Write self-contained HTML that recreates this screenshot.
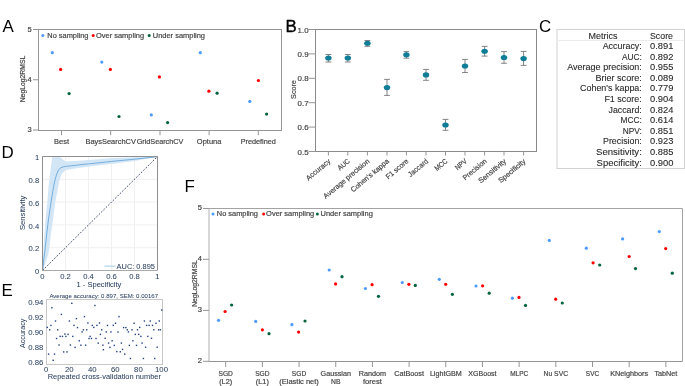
<!DOCTYPE html>
<html><head><meta charset="utf-8"><style>
html,body{margin:0;padding:0;background:#fff;}
svg{display:block;will-change:transform;font-family:"Liberation Sans",sans-serif;}
</style></head><body>
<svg width="685" height="386" viewBox="0 0 685 386" shape-rendering="geometricPrecision">
<rect width="685" height="386" fill="#fff"/>
<text x="2.5" y="31.7" font-size="16.9" fill="#000">A</text>
<text x="285.5" y="31.8" font-size="16.9" fill="#000" stroke="#000" stroke-width="0.35">B</text>
<text x="539.1" y="31.6" font-size="16.9" fill="#000">C</text>
<text x="1.6" y="157.9" font-size="16.9" fill="#000">D</text>
<text x="1.6" y="295.8" font-size="16.9" fill="#000">E</text>
<text x="184.4" y="191.7" font-size="16.9" fill="#000">F</text>
<rect x="38.5" y="29.5" width="243.0" height="101.0" stroke="#959595" stroke-width="1" fill="none"/>
<line x1="33.0" y1="29.5" x2="38.5" y2="29.5" stroke="#959595" stroke-width="1"/>
<text x="31.80" y="31.90" font-size="6.86" fill="#444444" stroke="#444444" stroke-width="0.18" text-anchor="end" textLength="4.20" lengthAdjust="spacingAndGlyphs">5</text>
<line x1="33.0" y1="79.75" x2="38.5" y2="79.75" stroke="#959595" stroke-width="1"/>
<text x="31.80" y="82.15" font-size="6.86" fill="#444444" stroke="#444444" stroke-width="0.18" text-anchor="end" textLength="4.20" lengthAdjust="spacingAndGlyphs">4</text>
<line x1="33.0" y1="130.0" x2="38.5" y2="130.0" stroke="#959595" stroke-width="1"/>
<text x="31.80" y="132.40" font-size="6.86" fill="#444444" stroke="#444444" stroke-width="0.18" text-anchor="end" textLength="4.20" lengthAdjust="spacingAndGlyphs">3</text>
<line x1="61.5" y1="130.5" x2="61.5" y2="135.2" stroke="#959595" stroke-width="1"/>
<text x="61.50" y="144.00" font-size="7.18" fill="#444444" stroke="#444444" stroke-width="0.18" text-anchor="middle" textLength="15.00" lengthAdjust="spacingAndGlyphs">Best</text>
<line x1="110.7" y1="130.5" x2="110.7" y2="135.2" stroke="#959595" stroke-width="1"/>
<text x="110.70" y="144.00" font-size="7.18" fill="#444444" stroke="#444444" stroke-width="0.18" text-anchor="middle" textLength="50.30" lengthAdjust="spacingAndGlyphs">BaysSearchCV</text>
<line x1="160.0" y1="130.5" x2="160.0" y2="135.2" stroke="#959595" stroke-width="1"/>
<text x="160.00" y="144.00" font-size="7.18" fill="#444444" stroke="#444444" stroke-width="0.18" text-anchor="middle" textLength="46.70" lengthAdjust="spacingAndGlyphs">GridSearchCV</text>
<line x1="209.1" y1="130.5" x2="209.1" y2="135.2" stroke="#959595" stroke-width="1"/>
<text x="209.10" y="144.00" font-size="7.18" fill="#444444" stroke="#444444" stroke-width="0.18" text-anchor="middle" textLength="24.50" lengthAdjust="spacingAndGlyphs">Optuna</text>
<line x1="258.3" y1="130.5" x2="258.3" y2="135.2" stroke="#959595" stroke-width="1"/>
<text x="258.30" y="144.00" font-size="7.18" fill="#444444" stroke="#444444" stroke-width="0.18" text-anchor="middle" textLength="35.20" lengthAdjust="spacingAndGlyphs">Predefined</text>
<text x="24.80" y="79.00" font-size="6.76" fill="#444444" stroke="#444444" stroke-width="0.18" text-anchor="middle" textLength="46.60" lengthAdjust="spacingAndGlyphs" transform="rotate(-90 24.80 79.00)">NegLog2RMSL</text>
<circle cx="42.80" cy="35.60" r="1.5" fill="#4d9bff"/>
<text x="47.30" y="37.90" font-size="6.86" fill="#444444" stroke="#444444" stroke-width="0.18" text-anchor="start" textLength="41.21" lengthAdjust="spacingAndGlyphs">No sampling</text>
<circle cx="93.20" cy="35.60" r="1.5" fill="#ff0000"/>
<text x="96.00" y="37.90" font-size="6.86" fill="#444444" stroke="#444444" stroke-width="0.18" text-anchor="start" textLength="48.11" lengthAdjust="spacingAndGlyphs">Over sampling</text>
<circle cx="149.20" cy="35.60" r="1.5" fill="#00643c"/>
<text x="152.80" y="37.90" font-size="6.86" fill="#444444" stroke="#444444" stroke-width="0.18" text-anchor="start" textLength="52.22" lengthAdjust="spacingAndGlyphs">Under sampling</text>
<circle cx="52.30" cy="52.70" r="1.6" fill="#4d9bff"/>
<circle cx="60.60" cy="69.40" r="1.6" fill="#ff0000"/>
<circle cx="69.10" cy="93.60" r="1.6" fill="#00643c"/>
<circle cx="101.80" cy="62.10" r="1.6" fill="#4d9bff"/>
<circle cx="110.40" cy="69.40" r="1.6" fill="#ff0000"/>
<circle cx="119.00" cy="116.50" r="1.6" fill="#00643c"/>
<circle cx="151.30" cy="114.90" r="1.6" fill="#4d9bff"/>
<circle cx="159.40" cy="76.90" r="1.6" fill="#ff0000"/>
<circle cx="167.60" cy="122.60" r="1.6" fill="#00643c"/>
<circle cx="200.30" cy="52.70" r="1.6" fill="#4d9bff"/>
<circle cx="208.90" cy="91.20" r="1.6" fill="#ff0000"/>
<circle cx="217.10" cy="93.20" r="1.6" fill="#00643c"/>
<circle cx="249.80" cy="101.40" r="1.6" fill="#4d9bff"/>
<circle cx="258.40" cy="80.50" r="1.6" fill="#ff0000"/>
<circle cx="266.60" cy="114.10" r="1.6" fill="#00643c"/>
<rect x="315.5" y="29.5" width="221.0" height="122.0" stroke="#8a8a8a" stroke-width="1" fill="none"/>
<line x1="308.5" y1="29.5" x2="315.5" y2="29.5" stroke="#959595" stroke-width="1"/>
<text x="308.60" y="32.50" font-size="7.73" fill="#444444" stroke="#444444" stroke-width="0.18" text-anchor="end" textLength="10.97" lengthAdjust="spacingAndGlyphs">1.0</text>
<line x1="308.5" y1="53.9" x2="315.5" y2="53.9" stroke="#959595" stroke-width="1"/>
<text x="308.60" y="56.90" font-size="7.73" fill="#444444" stroke="#444444" stroke-width="0.18" text-anchor="end" textLength="10.97" lengthAdjust="spacingAndGlyphs">0.9</text>
<line x1="308.5" y1="78.3" x2="315.5" y2="78.3" stroke="#959595" stroke-width="1"/>
<text x="308.60" y="81.30" font-size="7.73" fill="#444444" stroke="#444444" stroke-width="0.18" text-anchor="end" textLength="10.97" lengthAdjust="spacingAndGlyphs">0.8</text>
<line x1="308.5" y1="102.7" x2="315.5" y2="102.7" stroke="#959595" stroke-width="1"/>
<text x="308.60" y="105.70" font-size="7.73" fill="#444444" stroke="#444444" stroke-width="0.18" text-anchor="end" textLength="10.97" lengthAdjust="spacingAndGlyphs">0.7</text>
<line x1="308.5" y1="127.1" x2="315.5" y2="127.1" stroke="#959595" stroke-width="1"/>
<text x="308.60" y="130.10" font-size="7.73" fill="#444444" stroke="#444444" stroke-width="0.18" text-anchor="end" textLength="10.97" lengthAdjust="spacingAndGlyphs">0.6</text>
<line x1="308.5" y1="151.5" x2="315.5" y2="151.5" stroke="#959595" stroke-width="1"/>
<text x="308.60" y="154.50" font-size="7.73" fill="#444444" stroke="#444444" stroke-width="0.18" text-anchor="end" textLength="10.97" lengthAdjust="spacingAndGlyphs">0.5</text>
<text x="296.00" y="89.50" font-size="6.97" fill="#444444" stroke="#444444" stroke-width="0.18" text-anchor="middle" textLength="18.77" lengthAdjust="spacingAndGlyphs" transform="rotate(-90 296.00 89.50)">Score</text>
<line x1="328.4" y1="151.5" x2="328.4" y2="155.5" stroke="#959595" stroke-width="1"/>
<text x="331.00" y="162.00" font-size="7.22" fill="#444444" stroke="#444444" stroke-width="0.18" text-anchor="end" textLength="29.45" lengthAdjust="spacingAndGlyphs" transform="rotate(-40 331.00 162.00)">Accuracy</text>
<line x1="347.8" y1="151.5" x2="347.8" y2="155.5" stroke="#959595" stroke-width="1"/>
<text x="350.40" y="162.00" font-size="7.22" fill="#444444" stroke="#444444" stroke-width="0.18" text-anchor="end" textLength="13.64" lengthAdjust="spacingAndGlyphs" transform="rotate(-40 350.40 162.00)">AUC</text>
<line x1="367.4" y1="151.5" x2="367.4" y2="155.5" stroke="#959595" stroke-width="1"/>
<text x="370.00" y="162.00" font-size="7.22" fill="#444444" stroke="#444444" stroke-width="0.18" text-anchor="end" textLength="57.63" lengthAdjust="spacingAndGlyphs" transform="rotate(-40 370.00 162.00)">Average precision</text>
<line x1="387.0" y1="151.5" x2="387.0" y2="155.5" stroke="#959595" stroke-width="1"/>
<text x="389.60" y="162.00" font-size="7.22" fill="#444444" stroke="#444444" stroke-width="0.18" text-anchor="end" textLength="47.49" lengthAdjust="spacingAndGlyphs" transform="rotate(-40 389.60 162.00)">Cohen's kappa</text>
<line x1="406.4" y1="151.5" x2="406.4" y2="155.5" stroke="#959595" stroke-width="1"/>
<text x="409.00" y="162.00" font-size="7.22" fill="#444444" stroke="#444444" stroke-width="0.18" text-anchor="end" textLength="27.20" lengthAdjust="spacingAndGlyphs" transform="rotate(-40 409.00 162.00)">F1 score</text>
<line x1="426.0" y1="151.5" x2="426.0" y2="155.5" stroke="#959595" stroke-width="1"/>
<text x="428.60" y="162.00" font-size="7.22" fill="#444444" stroke="#444444" stroke-width="0.18" text-anchor="end" textLength="23.53" lengthAdjust="spacingAndGlyphs" transform="rotate(-40 428.60 162.00)">Jaccard</text>
<line x1="445.5" y1="151.5" x2="445.5" y2="155.5" stroke="#959595" stroke-width="1"/>
<text x="448.10" y="162.00" font-size="7.22" fill="#444444" stroke="#444444" stroke-width="0.18" text-anchor="end" textLength="14.57" lengthAdjust="spacingAndGlyphs" transform="rotate(-40 448.10 162.00)">MCC</text>
<line x1="465.0" y1="151.5" x2="465.0" y2="155.5" stroke="#959595" stroke-width="1"/>
<text x="467.60" y="162.00" font-size="7.22" fill="#444444" stroke="#444444" stroke-width="0.18" text-anchor="end" textLength="13.13" lengthAdjust="spacingAndGlyphs" transform="rotate(-40 467.60 162.00)">NPV</text>
<line x1="484.6" y1="151.5" x2="484.6" y2="155.5" stroke="#959595" stroke-width="1"/>
<text x="487.20" y="162.00" font-size="7.22" fill="#444444" stroke="#444444" stroke-width="0.18" text-anchor="end" textLength="28.78" lengthAdjust="spacingAndGlyphs" transform="rotate(-40 487.20 162.00)">Precision</text>
<line x1="504.0" y1="151.5" x2="504.0" y2="155.5" stroke="#959595" stroke-width="1"/>
<text x="506.60" y="162.00" font-size="7.22" fill="#444444" stroke="#444444" stroke-width="0.18" text-anchor="end" textLength="33.58" lengthAdjust="spacingAndGlyphs" transform="rotate(-40 506.60 162.00)">Sensitivity</text>
<line x1="523.6" y1="151.5" x2="523.6" y2="155.5" stroke="#959595" stroke-width="1"/>
<text x="526.20" y="162.00" font-size="7.22" fill="#444444" stroke="#444444" stroke-width="0.18" text-anchor="end" textLength="33.24" lengthAdjust="spacingAndGlyphs" transform="rotate(-40 526.20 162.00)">Specificity</text>
<line x1="328.4" y1="54.5" x2="328.4" y2="62.0" stroke="#777" stroke-width="0.9"/>
<line x1="325.5" y1="54.5" x2="331.29999999999995" y2="54.5" stroke="#777" stroke-width="0.9"/>
<line x1="325.5" y1="62.0" x2="331.29999999999995" y2="62.0" stroke="#777" stroke-width="0.9"/>
<ellipse cx="328.4" cy="58.0" rx="3.25" ry="2.55" fill="#107d98"/>
<line x1="347.8" y1="54.5" x2="347.8" y2="62.0" stroke="#777" stroke-width="0.9"/>
<line x1="344.90000000000003" y1="54.5" x2="350.7" y2="54.5" stroke="#777" stroke-width="0.9"/>
<line x1="344.90000000000003" y1="62.0" x2="350.7" y2="62.0" stroke="#777" stroke-width="0.9"/>
<ellipse cx="347.8" cy="58.0" rx="3.25" ry="2.55" fill="#107d98"/>
<line x1="367.4" y1="40.5" x2="367.4" y2="46.3" stroke="#777" stroke-width="0.9"/>
<line x1="364.5" y1="40.5" x2="370.29999999999995" y2="40.5" stroke="#777" stroke-width="0.9"/>
<line x1="364.5" y1="46.3" x2="370.29999999999995" y2="46.3" stroke="#777" stroke-width="0.9"/>
<ellipse cx="367.4" cy="43.2" rx="3.25" ry="2.55" fill="#107d98"/>
<line x1="387.0" y1="79.4" x2="387.0" y2="95.4" stroke="#777" stroke-width="0.9"/>
<line x1="384.1" y1="79.4" x2="389.9" y2="79.4" stroke="#777" stroke-width="0.9"/>
<line x1="384.1" y1="95.4" x2="389.9" y2="95.4" stroke="#777" stroke-width="0.9"/>
<ellipse cx="387.0" cy="87.6" rx="3.25" ry="2.55" fill="#107d98"/>
<line x1="406.4" y1="51.6" x2="406.4" y2="58.2" stroke="#777" stroke-width="0.9"/>
<line x1="403.5" y1="51.6" x2="409.29999999999995" y2="51.6" stroke="#777" stroke-width="0.9"/>
<line x1="403.5" y1="58.2" x2="409.29999999999995" y2="58.2" stroke="#777" stroke-width="0.9"/>
<ellipse cx="406.4" cy="54.8" rx="3.25" ry="2.55" fill="#107d98"/>
<line x1="426.0" y1="69.4" x2="426.0" y2="80.3" stroke="#777" stroke-width="0.9"/>
<line x1="423.1" y1="69.4" x2="428.9" y2="69.4" stroke="#777" stroke-width="0.9"/>
<line x1="423.1" y1="80.3" x2="428.9" y2="80.3" stroke="#777" stroke-width="0.9"/>
<ellipse cx="426.0" cy="74.9" rx="3.25" ry="2.55" fill="#107d98"/>
<line x1="445.5" y1="119.4" x2="445.5" y2="130.3" stroke="#777" stroke-width="0.9"/>
<line x1="442.6" y1="119.4" x2="448.4" y2="119.4" stroke="#777" stroke-width="0.9"/>
<line x1="442.6" y1="130.3" x2="448.4" y2="130.3" stroke="#777" stroke-width="0.9"/>
<ellipse cx="445.5" cy="125.0" rx="3.25" ry="2.55" fill="#107d98"/>
<line x1="465.0" y1="59.4" x2="465.0" y2="72.5" stroke="#777" stroke-width="0.9"/>
<line x1="462.1" y1="59.4" x2="467.9" y2="59.4" stroke="#777" stroke-width="0.9"/>
<line x1="462.1" y1="72.5" x2="467.9" y2="72.5" stroke="#777" stroke-width="0.9"/>
<ellipse cx="465.0" cy="66.0" rx="3.25" ry="2.55" fill="#107d98"/>
<line x1="484.6" y1="46.4" x2="484.6" y2="56.1" stroke="#777" stroke-width="0.9"/>
<line x1="481.70000000000005" y1="46.4" x2="487.5" y2="46.4" stroke="#777" stroke-width="0.9"/>
<line x1="481.70000000000005" y1="56.1" x2="487.5" y2="56.1" stroke="#777" stroke-width="0.9"/>
<ellipse cx="484.6" cy="51.3" rx="3.25" ry="2.55" fill="#107d98"/>
<line x1="504.0" y1="51.6" x2="504.0" y2="63.3" stroke="#777" stroke-width="0.9"/>
<line x1="501.1" y1="51.6" x2="506.9" y2="51.6" stroke="#777" stroke-width="0.9"/>
<line x1="501.1" y1="63.3" x2="506.9" y2="63.3" stroke="#777" stroke-width="0.9"/>
<ellipse cx="504.0" cy="57.5" rx="3.25" ry="2.55" fill="#107d98"/>
<line x1="523.6" y1="51.4" x2="523.6" y2="65.4" stroke="#777" stroke-width="0.9"/>
<line x1="520.7" y1="51.4" x2="526.5" y2="51.4" stroke="#777" stroke-width="0.9"/>
<line x1="520.7" y1="65.4" x2="526.5" y2="65.4" stroke="#777" stroke-width="0.9"/>
<ellipse cx="523.6" cy="58.6" rx="3.25" ry="2.55" fill="#107d98"/>
<rect x="557.0" y="29.5" width="127.5" height="139.0" stroke="#d2d2d2" stroke-width="1" fill="none"/>
<line x1="557.0" y1="40.5" x2="684.5" y2="40.5" stroke="#ececec" stroke-width="1"/>
<text x="603.00" y="38.60" font-size="8.22" fill="#2b2b2b" stroke="#2b2b2b" stroke-width="0.1" text-anchor="middle" textLength="29.00" lengthAdjust="spacingAndGlyphs">Metrics</text>
<text x="650.00" y="38.60" font-size="8.22" fill="#2b2b2b" stroke="#2b2b2b" stroke-width="0.1" text-anchor="start" textLength="23.00" lengthAdjust="spacingAndGlyphs">Score</text>
<text x="641.80" y="49.00" font-size="8.22" fill="#2b2b2b" stroke="#2b2b2b" stroke-width="0.1" text-anchor="end" textLength="39.10" lengthAdjust="spacingAndGlyphs">Accuracy:</text>
<text x="650.00" y="49.00" font-size="8.22" fill="#2b2b2b" stroke="#2b2b2b" stroke-width="0.1" text-anchor="start" textLength="23.40" lengthAdjust="spacingAndGlyphs">0.891</text>
<text x="641.80" y="59.60" font-size="8.22" fill="#2b2b2b" stroke="#2b2b2b" stroke-width="0.1" text-anchor="end" textLength="19.90" lengthAdjust="spacingAndGlyphs">AUC:</text>
<text x="650.00" y="59.60" font-size="8.22" fill="#2b2b2b" stroke="#2b2b2b" stroke-width="0.1" text-anchor="start" textLength="23.40" lengthAdjust="spacingAndGlyphs">0.892</text>
<text x="641.80" y="70.20" font-size="8.22" fill="#2b2b2b" stroke="#2b2b2b" stroke-width="0.1" text-anchor="end" textLength="74.60" lengthAdjust="spacingAndGlyphs">Average precision:</text>
<text x="650.00" y="70.20" font-size="8.22" fill="#2b2b2b" stroke="#2b2b2b" stroke-width="0.1" text-anchor="start" textLength="23.40" lengthAdjust="spacingAndGlyphs">0.955</text>
<text x="641.80" y="80.80" font-size="8.22" fill="#2b2b2b" stroke="#2b2b2b" stroke-width="0.1" text-anchor="end" textLength="46.40" lengthAdjust="spacingAndGlyphs">Brier score:</text>
<text x="650.00" y="80.80" font-size="8.22" fill="#2b2b2b" stroke="#2b2b2b" stroke-width="0.1" text-anchor="start" textLength="23.40" lengthAdjust="spacingAndGlyphs">0.089</text>
<text x="641.80" y="91.40" font-size="8.22" fill="#2b2b2b" stroke="#2b2b2b" stroke-width="0.1" text-anchor="end" textLength="61.80" lengthAdjust="spacingAndGlyphs">Cohen's kappa:</text>
<text x="650.00" y="91.40" font-size="8.22" fill="#2b2b2b" stroke="#2b2b2b" stroke-width="0.1" text-anchor="start" textLength="23.40" lengthAdjust="spacingAndGlyphs">0.779</text>
<text x="641.80" y="102.00" font-size="8.22" fill="#2b2b2b" stroke="#2b2b2b" stroke-width="0.1" text-anchor="end" textLength="37.40" lengthAdjust="spacingAndGlyphs">F1 score:</text>
<text x="650.00" y="102.00" font-size="8.22" fill="#2b2b2b" stroke="#2b2b2b" stroke-width="0.1" text-anchor="start" textLength="23.40" lengthAdjust="spacingAndGlyphs">0.904</text>
<text x="641.80" y="112.60" font-size="8.22" fill="#2b2b2b" stroke="#2b2b2b" stroke-width="0.1" text-anchor="end" textLength="33.30" lengthAdjust="spacingAndGlyphs">Jaccard:</text>
<text x="650.00" y="112.60" font-size="8.22" fill="#2b2b2b" stroke="#2b2b2b" stroke-width="0.1" text-anchor="start" textLength="23.40" lengthAdjust="spacingAndGlyphs">0.824</text>
<text x="641.80" y="123.20" font-size="8.22" fill="#2b2b2b" stroke="#2b2b2b" stroke-width="0.1" text-anchor="end" textLength="21.30" lengthAdjust="spacingAndGlyphs">MCC:</text>
<text x="650.00" y="123.20" font-size="8.22" fill="#2b2b2b" stroke="#2b2b2b" stroke-width="0.1" text-anchor="start" textLength="23.40" lengthAdjust="spacingAndGlyphs">0.614</text>
<text x="641.80" y="133.80" font-size="8.22" fill="#2b2b2b" stroke="#2b2b2b" stroke-width="0.1" text-anchor="end" textLength="19.10" lengthAdjust="spacingAndGlyphs">NPV:</text>
<text x="650.00" y="133.80" font-size="8.22" fill="#2b2b2b" stroke="#2b2b2b" stroke-width="0.1" text-anchor="start" textLength="23.40" lengthAdjust="spacingAndGlyphs">0.851</text>
<text x="641.80" y="144.40" font-size="8.22" fill="#2b2b2b" stroke="#2b2b2b" stroke-width="0.1" text-anchor="end" textLength="38.80" lengthAdjust="spacingAndGlyphs">Precision:</text>
<text x="650.00" y="144.40" font-size="8.22" fill="#2b2b2b" stroke="#2b2b2b" stroke-width="0.1" text-anchor="start" textLength="23.40" lengthAdjust="spacingAndGlyphs">0.923</text>
<text x="641.80" y="155.00" font-size="8.22" fill="#2b2b2b" stroke="#2b2b2b" stroke-width="0.1" text-anchor="end" textLength="45.80" lengthAdjust="spacingAndGlyphs">Sensitivity:</text>
<text x="650.00" y="155.00" font-size="8.22" fill="#2b2b2b" stroke="#2b2b2b" stroke-width="0.1" text-anchor="start" textLength="23.40" lengthAdjust="spacingAndGlyphs">0.885</text>
<text x="641.80" y="165.60" font-size="8.22" fill="#2b2b2b" stroke="#2b2b2b" stroke-width="0.1" text-anchor="end" textLength="45.20" lengthAdjust="spacingAndGlyphs">Specificity:</text>
<text x="650.00" y="165.60" font-size="8.22" fill="#2b2b2b" stroke="#2b2b2b" stroke-width="0.1" text-anchor="start" textLength="23.40" lengthAdjust="spacingAndGlyphs">0.900</text>
<line x1="65.50" y1="156.5" x2="65.50" y2="270.5" stroke="#f0f0f0" stroke-width="1"/>
<line x1="42.5" y1="247.70" x2="157.5" y2="247.70" stroke="#f0f0f0" stroke-width="1"/>
<line x1="88.50" y1="156.5" x2="88.50" y2="270.5" stroke="#f0f0f0" stroke-width="1"/>
<line x1="42.5" y1="224.90" x2="157.5" y2="224.90" stroke="#f0f0f0" stroke-width="1"/>
<line x1="111.50" y1="156.5" x2="111.50" y2="270.5" stroke="#f0f0f0" stroke-width="1"/>
<line x1="42.5" y1="202.10" x2="157.5" y2="202.10" stroke="#f0f0f0" stroke-width="1"/>
<line x1="134.50" y1="156.5" x2="134.50" y2="270.5" stroke="#f0f0f0" stroke-width="1"/>
<line x1="42.5" y1="179.30" x2="157.5" y2="179.30" stroke="#f0f0f0" stroke-width="1"/>
<polygon points="42.8,270.3 43.3,254 43.5,246 45.5,220 47.3,202.3 48.6,186 50.5,170 52.2,156.7 59.9,156.7 62.5,159.3 65.5,161.5 75.2,161.0 82,160.6 98,159.3 111.6,158.0 134.7,157.3 157.0,156.8 157.0,156.8 134.7,160.9 111.6,163.9 98,165.6 82,167.5 75.2,168.5 65.6,170.2 62,173.5 59.5,180 58.4,186 55.2,202.3 53.0,220 50.8,235 49.6,246 48.4,254 45.5,263 42.8,270.3" fill="#d3e6f6"/>
<polyline points="42.8,270.3 43.7,260 45.0,250 46.6,235 48.4,220 51.0,202.3 53.7,186 55.1,179.6 56.4,175 58.0,171 59.9,168.4 62.0,167.2 65.5,166.4 75.2,165.4 82,164.5 88.5,163.9 98,162.9 111.6,161.4 134.7,159.2 157.0,156.8" fill="none" stroke="#64a4d8" stroke-width="0.85"/>
<line x1="42.5" y1="270.5" x2="157.5" y2="156.5" stroke="#44546f" stroke-width="1.0" stroke-dasharray="1.8,1.5"/>
<line x1="42.5" y1="156.5" x2="157.5" y2="156.5" stroke="#8f8f8f" stroke-width="1"/>
<line x1="42.5" y1="156.5" x2="42.5" y2="270.5" stroke="#8f8f8f" stroke-width="1"/>
<line x1="157.5" y1="156.5" x2="157.5" y2="270.5" stroke="#8f8f8f" stroke-width="1"/>
<line x1="42.5" y1="270.5" x2="157.5" y2="270.5" stroke="#a8a8a8" stroke-width="1"/>
<text x="42.50" y="279.20" font-size="6.97" fill="#2a3f5f" stroke="#2a3f5f" stroke-width="0.04" text-anchor="middle" textLength="4.26" lengthAdjust="spacingAndGlyphs">0</text>
<text x="39.20" y="274.25" font-size="6.97" fill="#2a3f5f" stroke="#2a3f5f" stroke-width="0.04" text-anchor="end" textLength="4.26" lengthAdjust="spacingAndGlyphs">0</text>
<text x="65.50" y="279.20" font-size="6.97" fill="#2a3f5f" stroke="#2a3f5f" stroke-width="0.04" text-anchor="middle" textLength="10.66" lengthAdjust="spacingAndGlyphs">0.2</text>
<text x="39.20" y="251.45" font-size="6.97" fill="#2a3f5f" stroke="#2a3f5f" stroke-width="0.04" text-anchor="end" textLength="10.66" lengthAdjust="spacingAndGlyphs">0.2</text>
<text x="88.50" y="279.20" font-size="6.97" fill="#2a3f5f" stroke="#2a3f5f" stroke-width="0.04" text-anchor="middle" textLength="10.66" lengthAdjust="spacingAndGlyphs">0.4</text>
<text x="39.20" y="228.65" font-size="6.97" fill="#2a3f5f" stroke="#2a3f5f" stroke-width="0.04" text-anchor="end" textLength="10.66" lengthAdjust="spacingAndGlyphs">0.4</text>
<text x="111.50" y="279.20" font-size="6.97" fill="#2a3f5f" stroke="#2a3f5f" stroke-width="0.04" text-anchor="middle" textLength="10.66" lengthAdjust="spacingAndGlyphs">0.6</text>
<text x="39.20" y="205.85" font-size="6.97" fill="#2a3f5f" stroke="#2a3f5f" stroke-width="0.04" text-anchor="end" textLength="10.66" lengthAdjust="spacingAndGlyphs">0.6</text>
<text x="134.50" y="279.20" font-size="6.97" fill="#2a3f5f" stroke="#2a3f5f" stroke-width="0.04" text-anchor="middle" textLength="10.66" lengthAdjust="spacingAndGlyphs">0.8</text>
<text x="39.20" y="183.05" font-size="6.97" fill="#2a3f5f" stroke="#2a3f5f" stroke-width="0.04" text-anchor="end" textLength="10.66" lengthAdjust="spacingAndGlyphs">0.8</text>
<text x="157.50" y="279.20" font-size="6.97" fill="#2a3f5f" stroke="#2a3f5f" stroke-width="0.04" text-anchor="middle" textLength="4.26" lengthAdjust="spacingAndGlyphs">1</text>
<text x="39.20" y="160.25" font-size="6.97" fill="#2a3f5f" stroke="#2a3f5f" stroke-width="0.04" text-anchor="end" textLength="4.26" lengthAdjust="spacingAndGlyphs">1</text>
<text x="99.00" y="286.80" font-size="6.86" fill="#2a3f5f" stroke="#2a3f5f" stroke-width="0.04" text-anchor="middle" textLength="44.79" lengthAdjust="spacingAndGlyphs">1 - Specificity</text>
<text x="25.00" y="212.80" font-size="6.86" fill="#2a3f5f" stroke="#2a3f5f" stroke-width="0.04" text-anchor="middle" textLength="34.36" lengthAdjust="spacingAndGlyphs" transform="rotate(-90 25.00 212.80)">Sensitivity</text>
<line x1="104.4" y1="266.1" x2="115.4" y2="266.1" stroke="#9ecae9" stroke-width="1"/>
<text x="116.60" y="269.40" font-size="7.07" fill="#2a3f5f" stroke="#2a3f5f" stroke-width="0.04" text-anchor="start" textLength="38.30" lengthAdjust="spacingAndGlyphs">AUC: 0.895</text>
<rect x="46.5" y="299.5" width="116.0" height="65.0" stroke="#c8c8c8" stroke-width="1" fill="none"/>
<text x="103.70" y="298.00" font-size="5.67" fill="#2a3f5f" stroke="#2a3f5f" stroke-width="0.04" text-anchor="middle" textLength="108.65" lengthAdjust="spacingAndGlyphs">Average accuracy: 0.897, SEM: 0.00167</text>
<text x="43.40" y="304.75" font-size="7.07" fill="#2a3f5f" stroke="#2a3f5f" stroke-width="0.04" text-anchor="end" textLength="15.14" lengthAdjust="spacingAndGlyphs">0.94</text>
<text x="43.40" y="319.70" font-size="7.07" fill="#2a3f5f" stroke="#2a3f5f" stroke-width="0.04" text-anchor="end" textLength="15.14" lengthAdjust="spacingAndGlyphs">0.92</text>
<text x="43.40" y="334.65" font-size="7.07" fill="#2a3f5f" stroke="#2a3f5f" stroke-width="0.04" text-anchor="end" textLength="15.14" lengthAdjust="spacingAndGlyphs">0.90</text>
<text x="43.40" y="349.60" font-size="7.07" fill="#2a3f5f" stroke="#2a3f5f" stroke-width="0.04" text-anchor="end" textLength="15.14" lengthAdjust="spacingAndGlyphs">0.88</text>
<text x="43.40" y="364.55" font-size="7.07" fill="#2a3f5f" stroke="#2a3f5f" stroke-width="0.04" text-anchor="end" textLength="15.14" lengthAdjust="spacingAndGlyphs">0.86</text>
<text x="46.20" y="371.80" font-size="7.07" fill="#2a3f5f" stroke="#2a3f5f" stroke-width="0.04" text-anchor="middle" textLength="4.33" lengthAdjust="spacingAndGlyphs">0</text>
<text x="69.26" y="371.80" font-size="7.07" fill="#2a3f5f" stroke="#2a3f5f" stroke-width="0.04" text-anchor="middle" textLength="8.65" lengthAdjust="spacingAndGlyphs">20</text>
<text x="92.32" y="371.80" font-size="7.07" fill="#2a3f5f" stroke="#2a3f5f" stroke-width="0.04" text-anchor="middle" textLength="8.65" lengthAdjust="spacingAndGlyphs">40</text>
<text x="115.38" y="371.80" font-size="7.07" fill="#2a3f5f" stroke="#2a3f5f" stroke-width="0.04" text-anchor="middle" textLength="8.65" lengthAdjust="spacingAndGlyphs">60</text>
<text x="138.44" y="371.80" font-size="7.07" fill="#2a3f5f" stroke="#2a3f5f" stroke-width="0.04" text-anchor="middle" textLength="8.65" lengthAdjust="spacingAndGlyphs">80</text>
<text x="161.50" y="371.80" font-size="7.07" fill="#2a3f5f" stroke="#2a3f5f" stroke-width="0.04" text-anchor="middle" textLength="12.98" lengthAdjust="spacingAndGlyphs">100</text>
<text x="104.30" y="379.30" font-size="6.86" fill="#2a3f5f" stroke="#2a3f5f" stroke-width="0.04" text-anchor="middle" textLength="113.25" lengthAdjust="spacingAndGlyphs">Repeated cross-validation number</text>
<text x="25.00" y="333.30" font-size="6.66" fill="#2a3f5f" stroke="#2a3f5f" stroke-width="0.04" text-anchor="middle" textLength="29.22" lengthAdjust="spacingAndGlyphs" transform="rotate(-90 25.00 333.30)">Accuracy</text>
<rect x="46.60" y="326.70" width="1.4" height="1.4" fill="#23427f"/>
<rect x="51.20" y="307.00" width="1.4" height="1.4" fill="#23427f"/>
<rect x="50.20" y="324.70" width="1.4" height="1.4" fill="#23427f"/>
<rect x="49.00" y="329.10" width="1.4" height="1.4" fill="#23427f"/>
<rect x="54.80" y="320.30" width="1.4" height="1.4" fill="#23427f"/>
<rect x="57.00" y="329.10" width="1.4" height="1.4" fill="#23427f"/>
<rect x="60.70" y="313.70" width="1.4" height="1.4" fill="#23427f"/>
<rect x="68.70" y="320.30" width="1.4" height="1.4" fill="#23427f"/>
<rect x="71.10" y="302.60" width="1.4" height="1.4" fill="#23427f"/>
<rect x="73.30" y="324.70" width="1.4" height="1.4" fill="#23427f"/>
<rect x="75.70" y="317.90" width="1.4" height="1.4" fill="#23427f"/>
<rect x="76.80" y="326.90" width="1.4" height="1.4" fill="#23427f"/>
<rect x="82.70" y="329.10" width="1.4" height="1.4" fill="#23427f"/>
<rect x="83.70" y="315.90" width="1.4" height="1.4" fill="#23427f"/>
<rect x="86.00" y="329.10" width="1.4" height="1.4" fill="#23427f"/>
<rect x="87.20" y="322.30" width="1.4" height="1.4" fill="#23427f"/>
<rect x="91.60" y="324.70" width="1.4" height="1.4" fill="#23427f"/>
<rect x="93.10" y="326.70" width="1.4" height="1.4" fill="#23427f"/>
<rect x="94.20" y="304.80" width="1.4" height="1.4" fill="#23427f"/>
<rect x="96.20" y="324.70" width="1.4" height="1.4" fill="#23427f"/>
<rect x="98.80" y="322.30" width="1.4" height="1.4" fill="#23427f"/>
<rect x="101.00" y="329.10" width="1.4" height="1.4" fill="#23427f"/>
<rect x="81.40" y="331.20" width="1.4" height="1.4" fill="#23427f"/>
<rect x="64.20" y="333.40" width="1.4" height="1.4" fill="#23427f"/>
<rect x="67.40" y="333.70" width="1.4" height="1.4" fill="#23427f"/>
<rect x="99.70" y="333.70" width="1.4" height="1.4" fill="#23427f"/>
<rect x="59.40" y="335.70" width="1.4" height="1.4" fill="#23427f"/>
<rect x="61.80" y="335.70" width="1.4" height="1.4" fill="#23427f"/>
<rect x="65.20" y="335.70" width="1.4" height="1.4" fill="#23427f"/>
<rect x="72.10" y="335.70" width="1.4" height="1.4" fill="#23427f"/>
<rect x="89.40" y="335.70" width="1.4" height="1.4" fill="#23427f"/>
<rect x="55.90" y="337.80" width="1.4" height="1.4" fill="#23427f"/>
<rect x="88.30" y="337.80" width="1.4" height="1.4" fill="#23427f"/>
<rect x="90.80" y="337.80" width="1.4" height="1.4" fill="#23427f"/>
<rect x="95.30" y="337.80" width="1.4" height="1.4" fill="#23427f"/>
<rect x="78.60" y="340.10" width="1.4" height="1.4" fill="#23427f"/>
<rect x="97.50" y="342.40" width="1.4" height="1.4" fill="#23427f"/>
<rect x="58.30" y="344.30" width="1.4" height="1.4" fill="#23427f"/>
<rect x="69.70" y="344.30" width="1.4" height="1.4" fill="#23427f"/>
<rect x="80.20" y="344.50" width="1.4" height="1.4" fill="#23427f"/>
<rect x="84.90" y="344.50" width="1.4" height="1.4" fill="#23427f"/>
<rect x="102.20" y="344.50" width="1.4" height="1.4" fill="#23427f"/>
<rect x="74.40" y="346.70" width="1.4" height="1.4" fill="#23427f"/>
<rect x="102.70" y="349.00" width="1.4" height="1.4" fill="#23427f"/>
<rect x="63.00" y="351.20" width="1.4" height="1.4" fill="#23427f"/>
<rect x="66.30" y="351.20" width="1.4" height="1.4" fill="#23427f"/>
<rect x="47.90" y="353.40" width="1.4" height="1.4" fill="#23427f"/>
<rect x="53.80" y="353.40" width="1.4" height="1.4" fill="#23427f"/>
<rect x="52.50" y="359.60" width="1.4" height="1.4" fill="#23427f"/>
<rect x="106.80" y="324.70" width="1.4" height="1.4" fill="#23427f"/>
<rect x="112.60" y="324.70" width="1.4" height="1.4" fill="#23427f"/>
<rect x="114.80" y="322.60" width="1.4" height="1.4" fill="#23427f"/>
<rect x="118.30" y="315.90" width="1.4" height="1.4" fill="#23427f"/>
<rect x="122.90" y="326.90" width="1.4" height="1.4" fill="#23427f"/>
<rect x="125.20" y="326.90" width="1.4" height="1.4" fill="#23427f"/>
<rect x="126.60" y="329.10" width="1.4" height="1.4" fill="#23427f"/>
<rect x="131.30" y="329.10" width="1.4" height="1.4" fill="#23427f"/>
<rect x="133.40" y="322.50" width="1.4" height="1.4" fill="#23427f"/>
<rect x="136.80" y="329.10" width="1.4" height="1.4" fill="#23427f"/>
<rect x="139.00" y="326.70" width="1.4" height="1.4" fill="#23427f"/>
<rect x="143.70" y="320.30" width="1.4" height="1.4" fill="#23427f"/>
<rect x="145.90" y="324.70" width="1.4" height="1.4" fill="#23427f"/>
<rect x="148.40" y="324.70" width="1.4" height="1.4" fill="#23427f"/>
<rect x="149.60" y="320.30" width="1.4" height="1.4" fill="#23427f"/>
<rect x="151.80" y="324.70" width="1.4" height="1.4" fill="#23427f"/>
<rect x="153.10" y="329.10" width="1.4" height="1.4" fill="#23427f"/>
<rect x="155.30" y="322.60" width="1.4" height="1.4" fill="#23427f"/>
<rect x="157.90" y="329.10" width="1.4" height="1.4" fill="#23427f"/>
<rect x="158.60" y="320.30" width="1.4" height="1.4" fill="#23427f"/>
<rect x="159.70" y="329.10" width="1.4" height="1.4" fill="#23427f"/>
<rect x="161.00" y="309.30" width="1.4" height="1.4" fill="#23427f"/>
<rect x="105.50" y="331.20" width="1.4" height="1.4" fill="#23427f"/>
<rect x="110.20" y="331.20" width="1.4" height="1.4" fill="#23427f"/>
<rect x="117.30" y="331.40" width="1.4" height="1.4" fill="#23427f"/>
<rect x="127.70" y="331.20" width="1.4" height="1.4" fill="#23427f"/>
<rect x="134.60" y="333.70" width="1.4" height="1.4" fill="#23427f"/>
<rect x="138.00" y="333.70" width="1.4" height="1.4" fill="#23427f"/>
<rect x="140.20" y="335.70" width="1.4" height="1.4" fill="#23427f"/>
<rect x="147.10" y="335.70" width="1.4" height="1.4" fill="#23427f"/>
<rect x="104.50" y="337.60" width="1.4" height="1.4" fill="#23427f"/>
<rect x="150.80" y="337.60" width="1.4" height="1.4" fill="#23427f"/>
<rect x="111.40" y="340.10" width="1.4" height="1.4" fill="#23427f"/>
<rect x="132.20" y="340.10" width="1.4" height="1.4" fill="#23427f"/>
<rect x="107.90" y="342.40" width="1.4" height="1.4" fill="#23427f"/>
<rect x="120.70" y="342.40" width="1.4" height="1.4" fill="#23427f"/>
<rect x="141.40" y="342.40" width="1.4" height="1.4" fill="#23427f"/>
<rect x="113.60" y="344.70" width="1.4" height="1.4" fill="#23427f"/>
<rect x="128.70" y="344.70" width="1.4" height="1.4" fill="#23427f"/>
<rect x="135.80" y="344.70" width="1.4" height="1.4" fill="#23427f"/>
<rect x="109.20" y="346.70" width="1.4" height="1.4" fill="#23427f"/>
<rect x="144.90" y="346.50" width="1.4" height="1.4" fill="#23427f"/>
<rect x="156.50" y="346.50" width="1.4" height="1.4" fill="#23427f"/>
<rect x="121.80" y="348.70" width="1.4" height="1.4" fill="#23427f"/>
<rect x="116.10" y="350.90" width="1.4" height="1.4" fill="#23427f"/>
<rect x="119.60" y="351.10" width="1.4" height="1.4" fill="#23427f"/>
<rect x="124.00" y="353.40" width="1.4" height="1.4" fill="#23427f"/>
<rect x="129.70" y="357.80" width="1.4" height="1.4" fill="#23427f"/>
<rect x="142.70" y="357.80" width="1.4" height="1.4" fill="#23427f"/>
<rect x="154.00" y="357.80" width="1.4" height="1.4" fill="#23427f"/>
<line x1="209.0" y1="208.5" x2="682.5" y2="208.5" stroke="#a3a3a3" stroke-width="1"/>
<line x1="682.5" y1="208.5" x2="682.5" y2="361.5" stroke="#a3a3a3" stroke-width="1"/>
<line x1="209.0" y1="361.5" x2="682.5" y2="361.5" stroke="#959595" stroke-width="1"/>
<line x1="209.0" y1="208.5" x2="209.0" y2="361.5" stroke="#b0b0b0" stroke-width="1"/>
<line x1="203.0" y1="208.5" x2="209.0" y2="208.5" stroke="#959595" stroke-width="1"/>
<text x="202.00" y="209.90" font-size="6.86" fill="#444444" stroke="#444444" stroke-width="0.18" text-anchor="end" textLength="4.20" lengthAdjust="spacingAndGlyphs">5</text>
<line x1="203.0" y1="259.3" x2="209.0" y2="259.3" stroke="#959595" stroke-width="1"/>
<text x="202.00" y="260.70" font-size="6.86" fill="#444444" stroke="#444444" stroke-width="0.18" text-anchor="end" textLength="4.20" lengthAdjust="spacingAndGlyphs">4</text>
<line x1="203.0" y1="310.4" x2="209.0" y2="310.4" stroke="#959595" stroke-width="1"/>
<text x="202.00" y="311.80" font-size="6.86" fill="#444444" stroke="#444444" stroke-width="0.18" text-anchor="end" textLength="4.20" lengthAdjust="spacingAndGlyphs">3</text>
<line x1="203.0" y1="361.3" x2="209.0" y2="361.3" stroke="#959595" stroke-width="1"/>
<text x="202.00" y="362.70" font-size="6.86" fill="#444444" stroke="#444444" stroke-width="0.18" text-anchor="end" textLength="4.20" lengthAdjust="spacingAndGlyphs">2</text>
<text x="196.50" y="283.50" font-size="6.76" fill="#444444" stroke="#444444" stroke-width="0.18" text-anchor="middle" textLength="46.60" lengthAdjust="spacingAndGlyphs" transform="rotate(-90 196.50 283.50)">NegLog2RMSL</text>
<line x1="225.70" y1="361.5" x2="225.70" y2="367.0" stroke="#959595" stroke-width="1"/>
<text x="225.70" y="375.90" font-size="6.86" fill="#444444" stroke="#444444" stroke-width="0.18" text-anchor="middle" textLength="14.39" lengthAdjust="spacingAndGlyphs">SGD</text>
<text x="225.70" y="383.90" font-size="6.86" fill="#444444" stroke="#444444" stroke-width="0.18" text-anchor="middle" textLength="13.03" lengthAdjust="spacingAndGlyphs">(L2)</text>
<line x1="262.38" y1="361.5" x2="262.38" y2="367.0" stroke="#959595" stroke-width="1"/>
<text x="262.38" y="375.90" font-size="6.86" fill="#444444" stroke="#444444" stroke-width="0.18" text-anchor="middle" textLength="14.39" lengthAdjust="spacingAndGlyphs">SGD</text>
<text x="262.38" y="383.90" font-size="6.86" fill="#444444" stroke="#444444" stroke-width="0.18" text-anchor="middle" textLength="13.03" lengthAdjust="spacingAndGlyphs">(L1)</text>
<line x1="299.06" y1="361.5" x2="299.06" y2="367.0" stroke="#959595" stroke-width="1"/>
<text x="299.06" y="375.90" font-size="6.86" fill="#444444" stroke="#444444" stroke-width="0.18" text-anchor="middle" textLength="14.39" lengthAdjust="spacingAndGlyphs">SGD</text>
<text x="299.06" y="383.90" font-size="6.86" fill="#444444" stroke="#444444" stroke-width="0.18" text-anchor="middle" textLength="39.62" lengthAdjust="spacingAndGlyphs">(Elastic net)</text>
<line x1="335.74" y1="361.5" x2="335.74" y2="367.0" stroke="#959595" stroke-width="1"/>
<text x="335.74" y="375.90" font-size="6.86" fill="#444444" stroke="#444444" stroke-width="0.18" text-anchor="middle" textLength="30.28" lengthAdjust="spacingAndGlyphs">Gaussian</text>
<text x="335.74" y="383.90" font-size="6.86" fill="#444444" stroke="#444444" stroke-width="0.18" text-anchor="middle" textLength="9.46" lengthAdjust="spacingAndGlyphs">NB</text>
<line x1="372.42" y1="361.5" x2="372.42" y2="367.0" stroke="#959595" stroke-width="1"/>
<text x="372.42" y="375.90" font-size="6.86" fill="#444444" stroke="#444444" stroke-width="0.18" text-anchor="middle" textLength="27.33" lengthAdjust="spacingAndGlyphs">Random</text>
<text x="372.42" y="383.90" font-size="6.86" fill="#444444" stroke="#444444" stroke-width="0.18" text-anchor="middle" textLength="19.02" lengthAdjust="spacingAndGlyphs">forest</text>
<line x1="409.10" y1="361.5" x2="409.10" y2="367.0" stroke="#959595" stroke-width="1"/>
<text x="409.10" y="375.90" font-size="6.86" fill="#444444" stroke="#444444" stroke-width="0.18" text-anchor="middle" textLength="29.87" lengthAdjust="spacingAndGlyphs">CatBoost</text>
<line x1="445.78" y1="361.5" x2="445.78" y2="367.0" stroke="#959595" stroke-width="1"/>
<text x="445.78" y="375.90" font-size="6.86" fill="#444444" stroke="#444444" stroke-width="0.18" text-anchor="middle" textLength="31.81" lengthAdjust="spacingAndGlyphs">LightGBM</text>
<line x1="482.46" y1="361.5" x2="482.46" y2="367.0" stroke="#959595" stroke-width="1"/>
<text x="482.46" y="375.90" font-size="6.86" fill="#444444" stroke="#444444" stroke-width="0.18" text-anchor="middle" textLength="28.27" lengthAdjust="spacingAndGlyphs">XGBoost</text>
<line x1="519.14" y1="361.5" x2="519.14" y2="367.0" stroke="#959595" stroke-width="1"/>
<text x="519.14" y="375.90" font-size="6.86" fill="#444444" stroke="#444444" stroke-width="0.18" text-anchor="middle" textLength="17.96" lengthAdjust="spacingAndGlyphs">MLPC</text>
<line x1="555.82" y1="361.5" x2="555.82" y2="367.0" stroke="#959595" stroke-width="1"/>
<text x="555.82" y="375.90" font-size="6.86" fill="#444444" stroke="#444444" stroke-width="0.18" text-anchor="middle" textLength="24.53" lengthAdjust="spacingAndGlyphs">Nu SVC</text>
<line x1="592.50" y1="361.5" x2="592.50" y2="367.0" stroke="#959595" stroke-width="1"/>
<text x="592.50" y="375.90" font-size="6.86" fill="#444444" stroke="#444444" stroke-width="0.18" text-anchor="middle" textLength="13.31" lengthAdjust="spacingAndGlyphs">SVC</text>
<line x1="629.18" y1="361.5" x2="629.18" y2="367.0" stroke="#959595" stroke-width="1"/>
<text x="629.18" y="375.90" font-size="6.86" fill="#444444" stroke="#444444" stroke-width="0.18" text-anchor="middle" textLength="37.91" lengthAdjust="spacingAndGlyphs">KNeighbors</text>
<line x1="665.86" y1="361.5" x2="665.86" y2="367.0" stroke="#959595" stroke-width="1"/>
<text x="665.86" y="375.90" font-size="6.86" fill="#444444" stroke="#444444" stroke-width="0.18" text-anchor="middle" textLength="22.76" lengthAdjust="spacingAndGlyphs">TabNet</text>
<circle cx="213.00" cy="213.90" r="1.5" fill="#4d9bff"/>
<text x="216.80" y="216.20" font-size="6.86" fill="#444444" stroke="#444444" stroke-width="0.18" text-anchor="start" textLength="41.21" lengthAdjust="spacingAndGlyphs">No sampling</text>
<circle cx="263.60" cy="213.90" r="1.5" fill="#ff0000"/>
<text x="266.10" y="216.20" font-size="6.86" fill="#444444" stroke="#444444" stroke-width="0.18" text-anchor="start" textLength="48.11" lengthAdjust="spacingAndGlyphs">Over sampling</text>
<circle cx="317.40" cy="213.90" r="1.5" fill="#00643c"/>
<text x="320.60" y="216.20" font-size="6.86" fill="#444444" stroke="#444444" stroke-width="0.18" text-anchor="start" textLength="52.22" lengthAdjust="spacingAndGlyphs">Under sampling</text>
<circle cx="218.50" cy="320.30" r="1.6" fill="#4d9bff"/>
<circle cx="225.10" cy="311.50" r="1.6" fill="#ff0000"/>
<circle cx="231.60" cy="305.00" r="1.6" fill="#00643c"/>
<circle cx="255.70" cy="321.40" r="1.6" fill="#4d9bff"/>
<circle cx="262.40" cy="329.80" r="1.6" fill="#ff0000"/>
<circle cx="269.00" cy="333.70" r="1.6" fill="#00643c"/>
<circle cx="291.90" cy="324.70" r="1.6" fill="#4d9bff"/>
<circle cx="298.60" cy="332.10" r="1.6" fill="#ff0000"/>
<circle cx="305.00" cy="321.00" r="1.6" fill="#00643c"/>
<circle cx="329.20" cy="270.00" r="1.6" fill="#4d9bff"/>
<circle cx="335.60" cy="283.90" r="1.6" fill="#ff0000"/>
<circle cx="342.00" cy="276.70" r="1.6" fill="#00643c"/>
<circle cx="365.40" cy="288.50" r="1.6" fill="#4d9bff"/>
<circle cx="372.10" cy="284.70" r="1.6" fill="#ff0000"/>
<circle cx="378.50" cy="296.30" r="1.6" fill="#00643c"/>
<circle cx="402.30" cy="282.50" r="1.6" fill="#4d9bff"/>
<circle cx="408.90" cy="284.30" r="1.6" fill="#ff0000"/>
<circle cx="415.30" cy="285.40" r="1.6" fill="#00643c"/>
<circle cx="439.30" cy="279.30" r="1.6" fill="#4d9bff"/>
<circle cx="445.70" cy="284.30" r="1.6" fill="#ff0000"/>
<circle cx="452.40" cy="294.30" r="1.6" fill="#00643c"/>
<circle cx="476.00" cy="286.00" r="1.6" fill="#4d9bff"/>
<circle cx="482.60" cy="285.80" r="1.6" fill="#ff0000"/>
<circle cx="489.20" cy="293.20" r="1.6" fill="#00643c"/>
<circle cx="512.40" cy="298.20" r="1.6" fill="#4d9bff"/>
<circle cx="519.00" cy="297.40" r="1.6" fill="#ff0000"/>
<circle cx="525.50" cy="305.40" r="1.6" fill="#00643c"/>
<circle cx="549.30" cy="240.40" r="1.6" fill="#4d9bff"/>
<circle cx="555.70" cy="299.20" r="1.6" fill="#ff0000"/>
<circle cx="562.30" cy="303.00" r="1.6" fill="#00643c"/>
<circle cx="586.30" cy="248.20" r="1.6" fill="#4d9bff"/>
<circle cx="593.10" cy="262.80" r="1.6" fill="#ff0000"/>
<circle cx="599.70" cy="265.00" r="1.6" fill="#00643c"/>
<circle cx="622.60" cy="238.90" r="1.6" fill="#4d9bff"/>
<circle cx="629.20" cy="256.50" r="1.6" fill="#ff0000"/>
<circle cx="635.50" cy="268.60" r="1.6" fill="#00643c"/>
<circle cx="659.30" cy="231.60" r="1.6" fill="#4d9bff"/>
<circle cx="665.70" cy="248.60" r="1.6" fill="#ff0000"/>
<circle cx="672.30" cy="273.20" r="1.6" fill="#00643c"/>
</svg>
</body></html>
